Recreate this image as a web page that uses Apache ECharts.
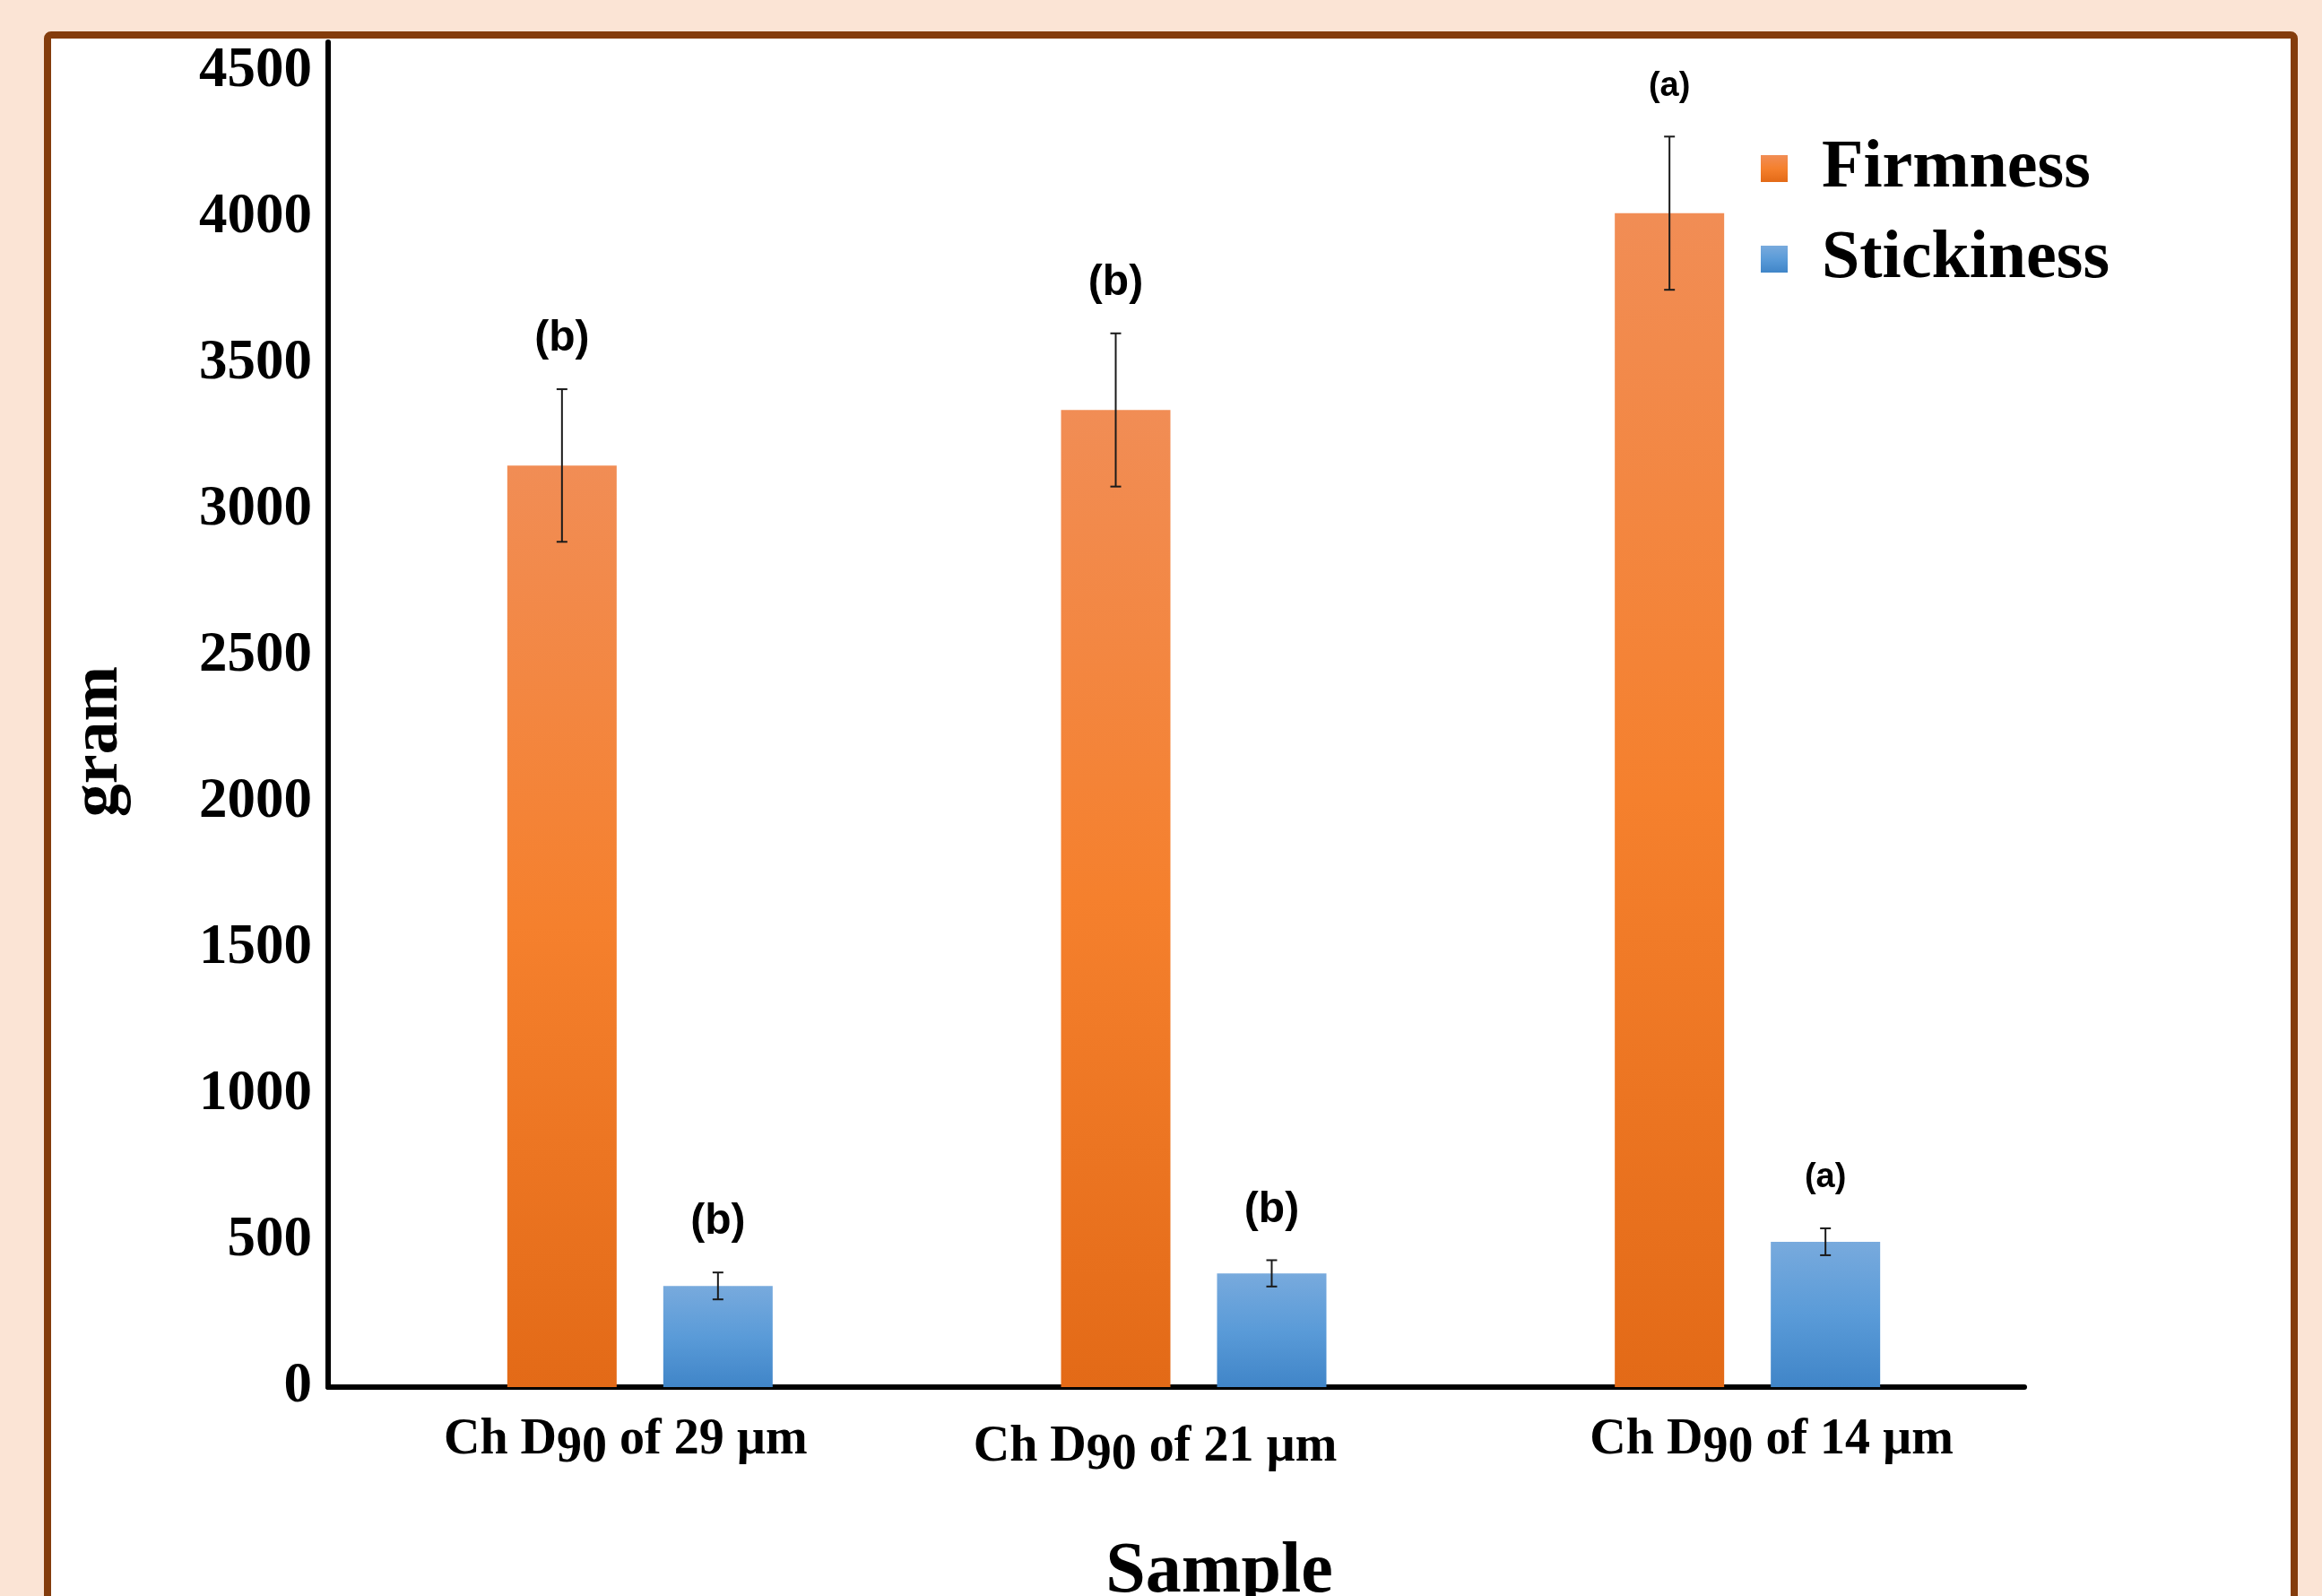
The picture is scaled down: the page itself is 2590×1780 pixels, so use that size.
<!DOCTYPE html>
<html><head><meta charset="utf-8">
<script src="https://cdn.jsdelivr.net/npm/echarts/dist/echarts.min.js"></script>
<style>html,body{margin:0;padding:0;background:#FBE4D5}#c{width:2590px;height:1780px}</style>
</head><body><div id="c"></div>
<script>
// ---- data ----
const categories = ['Ch D90 of 29 µm', 'Ch D90 of 21 µm', 'Ch D90 of 14 µm'];
const seriesNames = ['Firmness', 'Stickiness'];
const firmness = [3152, 3342, 4015];
const firmnessErr = [261, 262, 262];
const firmnessLetters = ['(b)', '(b)', '(a)'];
const stickiness = [346, 389, 497];
const stickinessErr = [46, 45, 46];
const stickinessLetters = ['(b)', '(b)', '(a)'];
const yMin = 0, yMax = 4600, yInterval = 500;
const yName = 'gram', xName = 'Sample';

// ---- styles / layout ----
const SERIF = '"Liberation Serif", "Times New Roman", serif';
const SANS = '"Liberation Sans", Arial, sans-serif';
const BAR_W = 122, BAR_GAP = 52;
const BAR_OFF = (BAR_W + BAR_GAP) / 2;
const labelShiftX = [-16, -43, 27];
const labelShiftY = [0, 8, 0];
const gridPos = { top: 47, bottom: 233, right: 332 };

const firmColor = new echarts.graphic.LinearGradient(0, 0, 0, 1, [
  { offset: 0, color: '#F18D55' }, { offset: 0.5, color: '#F5802D' }, { offset: 1, color: '#E36A17' }]);
const stickColor = new echarts.graphic.LinearGradient(0, 0, 0, 1, [
  { offset: 0, color: '#78AADD' }, { offset: 0.5, color: '#5A9BD8' }, { offset: 1, color: '#4085C8' }]);

const rich = {};
categories.forEach((c, i) => {
  const sx = labelShiftX[i], sy = labelShiftY[i];
  const base = { fontFamily: SERIF, fontWeight: 'bold', fontSize: 56, color: '#000', verticalAlign: 'top' };
  rich['a' + i] = Object.assign({}, base, { padding: [sy, 0, 0, sx > 0 ? 2 * sx : 0] });
  rich['s' + i] = Object.assign({}, base, { padding: [sy + 9, 0, 0, 0] });
  rich['b' + i] = Object.assign({}, base, { padding: [sy, sx < 0 ? -2 * sx : 0, 0, 0] });
});

function errRender(values, errs, letters, side) {
  return function (params, api) {
    const idx = params.dataIndex;
    const i = api.value(0), v = api.value(1), e = api.value(2);
    const top = api.coord([i, v + e]);
    const bot = api.coord([i, v - e]);
    const x = top[0] + side * BAR_OFF;
    const st = { stroke: '#1a1a1a', lineWidth: 2 };
    const letter = letters[idx];
    return {
      type: 'group',
      children: [
        { type: 'line', shape: { x1: x, y1: top[1], x2: x, y2: bot[1] }, style: st },
        { type: 'line', shape: { x1: x - 6, y1: top[1], x2: x + 6, y2: top[1] }, style: st },
        { type: 'line', shape: { x1: x - 6, y1: bot[1], x2: x + 6, y2: bot[1] }, style: st },
        { type: 'text', x: x, y: top[1] - 56,
          style: { text: letter, fill: '#000', fontFamily: SANS, fontWeight: 'bold',
                   fontSize: letter === '(a)' ? 38 : 48, align: 'center', verticalAlign: 'middle' } }
      ]
    };
  };
}

const chart = echarts.init(document.getElementById('c'), null, { renderer: 'canvas' });
chart.setOption({
  animation: false,
  backgroundColor: '#FBE4D5',
  graphic: [{
    type: 'rect', z: -10, silent: true,
    shape: { x: 53, y: 39, width: 2506, height: 1900, r: 4 },
    style: { fill: '#ffffff', stroke: '#843C0C', lineWidth: 8 }
  }],
  legend: {
    orient: 'vertical', left: 1964, top: 148, padding: 0,
    itemWidth: 30, itemHeight: 30, itemGap: 21, icon: 'rect',
    data: seriesNames,
    textStyle: { fontFamily: SERIF, fontWeight: 'bold', fontSize: 76, color: '#000',
                 lineHeight: 80, padding: [0, 0, 0, 33] }
  },
  grid: [
    { left: 405, right: gridPos.right, top: gridPos.top, bottom: gridPos.bottom, containLabel: false, outerBoundsMode: 'none' },
    { left: 366, right: gridPos.right, top: gridPos.top, bottom: gridPos.bottom, containLabel: false, outerBoundsMode: 'none' }
  ],
  xAxis: [
    { type: 'category', gridIndex: 0, data: categories,
      axisLine: { show: false }, axisTick: { show: false }, splitLine: { show: false },
      axisLabel: { interval: 0, margin: 32, rich: rich,
        formatter: (val, idx) => {
          const k = val.indexOf('90');
          return '{a' + idx + '|' + val.slice(0, k) + '}{s' + idx + '|90}{b' + idx + '|' + val.slice(k + 2) + '}';
        } },
      name: xName, nameLocation: 'middle', nameGap: 167,
      nameTextStyle: { fontFamily: SERIF, fontWeight: 'bold', fontSize: 80, color: '#000', padding: [0, 0, 0, 57] }
    },
    { type: 'value', gridIndex: 1, min: 0, max: 1,
      axisLine: { show: true, lineStyle: { color: '#000', width: 6, cap: 'round' } },
      axisTick: { show: false }, axisLabel: { show: false }, splitLine: { show: false } }
  ],
  yAxis: [
    { type: 'value', gridIndex: 0, min: yMin, max: yMax, interval: yInterval, show: false,
      splitLine: { show: false } },
    { type: 'value', gridIndex: 1, min: yMin, max: yMax, interval: yInterval,
      axisLine: { show: true, lineStyle: { color: '#000', width: 6, cap: 'round' } },
      axisTick: { show: false }, splitLine: { show: false },
      axisLabel: { showMaxLabel: false, margin: 18, formatter: v => String(v),
                   fontFamily: SERIF, fontWeight: 'bold', fontSize: 63, color: '#000' },
      name: yName, nameLocation: 'middle', nameRotate: 90, nameGap: 218,
      nameTextStyle: { fontFamily: SERIF, fontWeight: 'bold', fontSize: 74, color: '#000', padding: [0, 60, 0, 0] }
    }
  ],
  series: [
    { name: seriesNames[0], type: 'bar', xAxisIndex: 0, yAxisIndex: 0, data: firmness,
      barWidth: BAR_W, barGap: (BAR_GAP / BAR_W * 100) + '%', itemStyle: { color: firmColor } },
    { name: seriesNames[1], type: 'bar', xAxisIndex: 0, yAxisIndex: 0, data: stickiness,
      barWidth: BAR_W, itemStyle: { color: stickColor } },
    { type: 'custom', xAxisIndex: 0, yAxisIndex: 0, z: 5, silent: true,
      data: firmness.map((v, i) => [i, v, firmnessErr[i]]), encode: { x: 0, y: 1 },
      renderItem: errRender(firmness, firmnessErr, firmnessLetters, -1) },
    { type: 'custom', xAxisIndex: 0, yAxisIndex: 0, z: 5, silent: true,
      data: stickiness.map((v, i) => [i, v, stickinessErr[i]]), encode: { x: 0, y: 1 },
      renderItem: errRender(stickiness, stickinessErr, stickinessLetters, 1) }
  ]
});
</script></body></html>
